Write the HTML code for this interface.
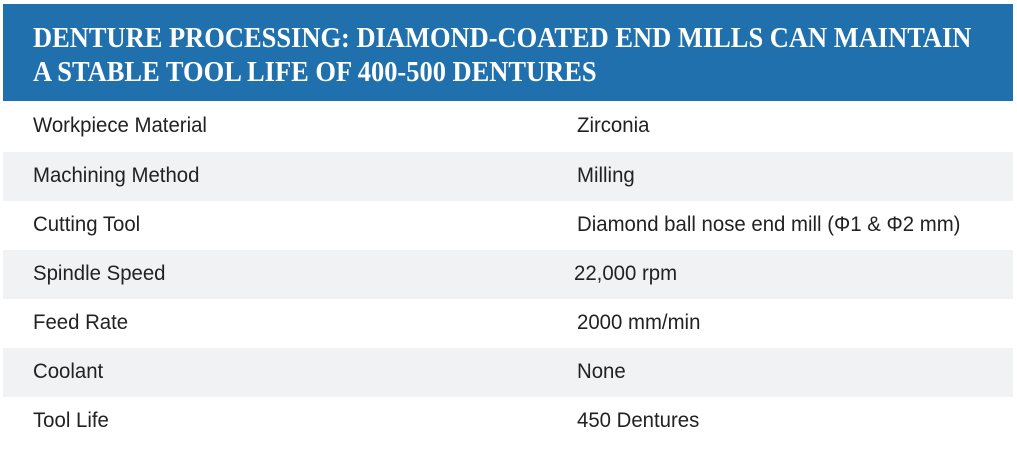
<!DOCTYPE html>
<html><head><meta charset="utf-8"><style>
body{margin:0;width:1017px;height:457px;background:#fff;position:relative;overflow:hidden}
.hd{position:absolute;left:3px;top:4px;width:1010px;height:97px;background:#1f70ac}
.hd div{position:absolute;left:30px;color:#fff;font-family:"Liberation Serif",serif;font-weight:bold;font-size:28px;white-space:nowrap;transform-origin:0 0;transform:scaleX(0.945)}
.r{position:absolute;left:3px;width:1010px;height:49px}
.g{background:#f1f2f4}
.r span{position:absolute;top:12px;font-family:"Liberation Sans",sans-serif;font-size:21px;color:#222;transform-origin:0 0;transform:scaleX(0.97);white-space:nowrap}
.a{left:30px}.b{left:574px}
</style></head><body>
<div class="hd"><div style="top:19px">DENTURE PROCESSING: DIAMOND-COATED END MILLS CAN MAINTAIN</div><div style="top:53px">A STABLE TOOL LIFE OF 400-500 DENTURES</div></div>
<div class="r" style="top:102px"><span class="a">Workpiece Material</span><span class="b">Zirconia</span></div>
<div class="r g" style="top:152px"><span class="a">Machining Method</span><span class="b">Milling</span></div>
<div class="r" style="top:201px"><span class="a">Cutting Tool</span><span class="b">Diamond ball nose end mill (Φ1 &amp; Φ2 mm)</span></div>
<div class="r g" style="top:250px"><span class="a">Spindle Speed</span><span class="b" style="left:571px">22,000 rpm</span></div>
<div class="r" style="top:299px"><span class="a">Feed Rate</span><span class="b">2000 mm/min</span></div>
<div class="r g" style="top:348px"><span class="a">Coolant</span><span class="b">None</span></div>
<div class="r" style="top:397px"><span class="a">Tool Life</span><span class="b">450 Dentures</span></div>
</body></html>
